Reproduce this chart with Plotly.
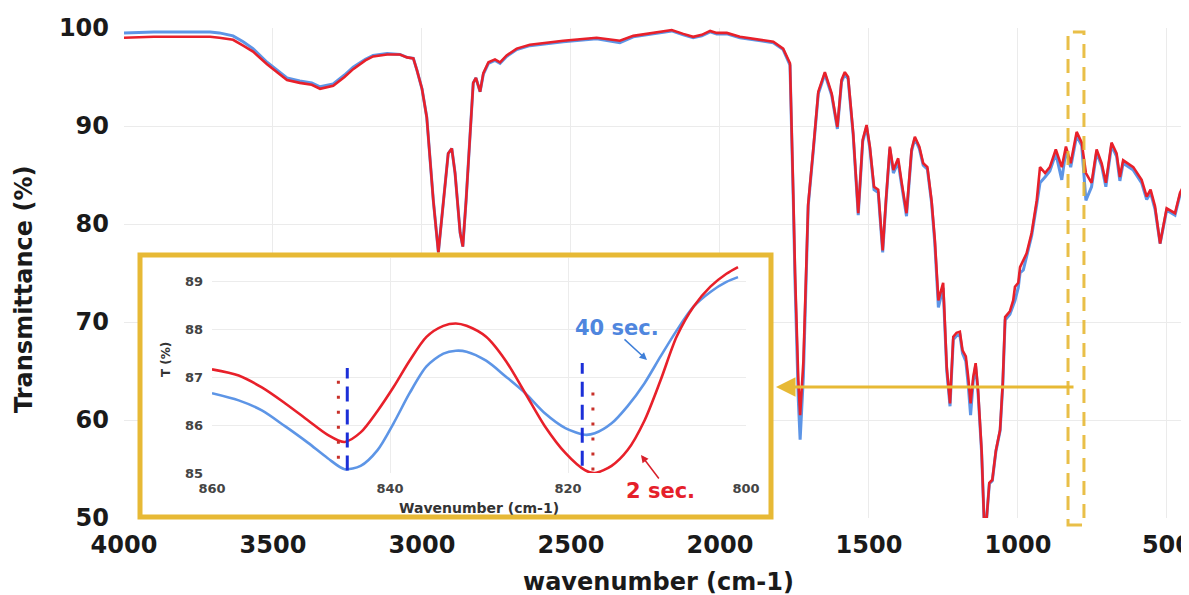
import plotly.graph_objects as go

# ---------------- main spectrum data ----------------
wn = [4000, 3900, 3800, 3711, 3680, 3634, 3600, 3567, 3520, 3480, 3453, 3410, 3370, 3342, 3298,
      3260, 3231, 3190, 3164, 3117, 3074, 3050, 3029, 3017, 3000, 2984, 2962, 2945, 2928, 2912,
      2900, 2889, 2872, 2863, 2852, 2839, 2828, 2819, 2805, 2794, 2777, 2755, 2738, 2716, 2682,
      2638, 2526, 2414, 2336, 2291, 2212, 2162, 2123, 2090, 2061, 2033, 2011, 1977, 1933, 1866,
      1821, 1788, 1765, 1754, 1748, 1737, 1731, 1720, 1709, 1704, 1687, 1670, 1648, 1625, 1606,
      1592, 1581, 1570, 1553, 1536, 1521, 1508, 1497, 1483, 1469, 1454, 1443, 1430, 1418, 1402,
      1390, 1374, 1357, 1346, 1331, 1318, 1304, 1290, 1279, 1267, 1251, 1239, 1228, 1217, 1206,
      1195, 1186, 1175, 1167, 1159, 1150, 1142, 1134, 1122, 1114, 1105, 1096, 1086, 1074, 1060,
      1051, 1043, 1027, 1016, 1010, 999, 993, 982, 971, 954, 937, 926, 909, 893, 873,
      853, 839, 823, 803, 786, 772, 753, 736, 719, 705, 686, 669, 658, 647, 613,
      585, 568, 555, 540, 523, 501, 473, 456, 440, 426]

t_2sec = [99.0, 99.1, 99.1, 99.1, 99.0, 98.8, 98.2, 97.6, 96.3, 95.3, 94.7, 94.4, 94.2, 93.8, 94.1,
          95.0, 95.8, 96.7, 97.1, 97.3, 97.3, 97.0, 96.9, 95.7, 93.8, 90.9, 82.4, 77.1, 82.4, 87.2,
          87.7, 85.2, 79.1, 77.7, 82.4, 89.3, 94.4, 94.9, 93.5, 95.4, 96.5, 96.8, 96.5, 97.2, 97.9,
          98.3, 98.7, 99.0, 98.7, 99.2, 99.6, 99.8, 99.4, 99.1, 99.3, 99.7, 99.5, 99.5, 99.1, 98.8,
          98.6, 97.9, 96.4, 83.0, 75.0, 64.0, 60.5, 66.0, 77.3, 82.0, 87.6, 93.5, 95.5, 93.3, 89.9,
          94.7, 95.5, 95.0, 89.3, 81.1, 88.6, 90.1, 87.9, 83.8, 83.5, 77.3, 82.4, 87.9, 85.5, 86.7,
          84.2, 81.1, 87.6, 88.9, 87.9, 86.2, 85.8, 82.4, 78.4, 72.2, 74.0, 65.4, 61.7, 68.5, 68.9,
          69.0, 67.1, 66.5, 64.4, 61.7, 64.4, 65.8, 63.1, 56.9, 50.0, 50.0, 53.6, 53.9, 56.9, 59.0,
          63.8, 70.5, 71.1, 72.2, 73.6, 74.0, 75.6, 76.3, 77.0, 79.1, 82.4, 85.8, 85.2, 85.8, 87.6,
          85.8, 87.9, 86.2, 89.4, 88.3, 85.2, 84.2, 87.6, 86.2, 84.2, 88.3, 87.2, 84.8, 86.5, 85.8,
          84.5, 82.8, 83.5, 81.8, 78.0, 81.6, 81.1, 83.2, 84.2, 85.0]

t_40sec = [99.5, 99.6, 99.6, 99.6, 99.5, 99.2, 98.6, 97.9, 96.5, 95.5, 94.9, 94.6, 94.4, 94.0, 94.3,
           95.2, 96.0, 96.8, 97.2, 97.4, 97.3, 97.0, 96.9, 95.7, 93.8, 90.9, 82.4, 77.1, 82.4, 87.2,
           87.7, 85.2, 79.1, 77.7, 82.4, 89.3, 94.4, 94.9, 93.5, 95.3, 96.4, 96.7, 96.4, 97.1, 97.8,
           98.2, 98.6, 98.9, 98.5, 99.1, 99.5, 99.7, 99.3, 99.0, 99.2, 99.6, 99.4, 99.4, 99.0, 98.7,
           98.5, 97.8, 96.2, 82.5, 74.0, 62.0, 58.0, 64.5, 77.0, 81.8, 87.4, 93.3, 95.3, 93.1, 89.7,
           94.5, 95.3, 94.8, 89.1, 80.9, 88.4, 89.9, 87.7, 83.5, 83.2, 77.1, 82.2, 87.7, 85.2, 86.3,
           83.9, 80.8, 87.4, 88.7, 87.7, 86.0, 85.6, 82.2, 78.0, 71.5, 73.5, 65.0, 61.4, 68.2, 68.6,
           68.7, 66.8, 66.0, 63.6, 60.5, 64.0, 65.5, 62.8, 56.7, 50.0, 50.0, 53.5, 53.8, 56.8, 58.9,
           63.5, 70.2, 70.8, 71.8, 72.2, 73.5, 75.0, 75.3, 76.6, 78.8, 82.0, 84.2, 84.8, 85.4, 87.2,
           84.5, 87.5, 85.8, 89.0, 88.0, 82.4, 83.8, 87.3, 85.9, 83.8, 88.0, 86.9, 84.4, 86.2, 85.5,
           84.2, 82.5, 83.2, 81.5, 78.0, 81.4, 80.9, 83.0, 84.0, 84.8]

# ---------------- inset data (860-800 cm-1) ----------------
wn_in = [860, 857, 854.4, 851.8, 849.2, 847, 845.1, 843.3, 841.4, 839.6, 837.8, 835.9, 834, 832.6,
         831.4, 829.2, 827, 824.8, 822.6, 820.3, 818.1, 817, 815.1, 813.3, 811.4, 809.6, 807.8,
         805.9, 804, 802.2, 800.9]
t_in_2sec = [87.17, 87.04, 86.79, 86.46, 86.10, 85.80, 85.65, 85.85, 86.30, 86.80, 87.35, 87.85,
             88.08, 88.13, 88.08, 87.85, 87.35, 86.67, 85.98, 85.42, 85.06, 85.00, 85.15, 85.48,
             86.10, 86.94, 87.85, 88.48, 88.90, 89.17, 89.31]
t_in_40sec = [86.67, 86.52, 86.31, 85.98, 85.63, 85.31, 85.08, 85.15, 85.48, 86.04, 86.67, 87.23,
              87.50, 87.56, 87.54, 87.35, 87.02, 86.67, 86.25, 85.94, 85.80, 85.83, 86.04, 86.40,
              86.88, 87.44, 87.98, 88.48, 88.79, 89.00, 89.10]

# minima markers: [x, y_bottom, y_top]
min_40sec = [[844.8, 85.05, 87.2], [818.4, 85.15, 87.3]]
min_2sec = [[845.8, 85.3, 87.0], [817.2, 85.05, 86.7]]

main_xticks = [4000, 3500, 3000, 2500, 2000, 1500, 1000, 500]
main_yticks = [50, 60, 70, 80, 90, 100]
in_xticks = [860, 840, 820, 800]
in_yticks = [85, 86, 87, 88, 89]

RED = "#e8202a"
BLUE = "#5d95e6"
GOLD = "#e7b935"
FONT = "DejaVu Sans"

fig = go.Figure()

# main plot
fig.add_trace(go.Scatter(x=wn, y=t_40sec, mode="lines", line=dict(color=BLUE, width=3),
                         name="40 sec.", showlegend=False))
fig.add_trace(go.Scatter(x=wn, y=t_2sec, mode="lines", line=dict(color=RED, width=2.6),
                         name="2 sec.", showlegend=False))

# white cover subplot (inset box background)
fig.add_trace(go.Scatter(x=[0], y=[0], xaxis="x2", yaxis="y2", mode="markers",
                         marker=dict(opacity=0), hoverinfo="skip", showlegend=False))

# inset
fig.add_trace(go.Scatter(x=wn_in, y=t_in_40sec, xaxis="x3", yaxis="y3", mode="lines",
                         line=dict(color=BLUE, width=2.6, shape="spline", smoothing=0.8),
                         showlegend=False))
fig.add_trace(go.Scatter(x=wn_in, y=t_in_2sec, xaxis="x3", yaxis="y3", mode="lines",
                         line=dict(color=RED, width=2.6, shape="spline", smoothing=0.8),
                         showlegend=False))
for xm, y0, y1 in min_40sec:
    fig.add_trace(go.Scatter(x=[xm, xm], y=[y0, y1], xaxis="x3", yaxis="y3", mode="lines",
                             line=dict(color="#1b2fd8", width=3, dash="15px,8px"),
                             showlegend=False))
for xm, y0, y1 in min_2sec:
    fig.add_trace(go.Scatter(x=[xm, xm], y=[y0, y1], xaxis="x3", yaxis="y3", mode="lines",
                             line=dict(color="#c8302a", width=3, dash="3px,12px"),
                             showlegend=False))

# page body has an 8px margin: work in reference-pixel coordinates and shift
OFF = 8
W, H = 1189 - OFF, 595 - OFF
L, T = 124 - OFF, 28 - OFF
R = 0
B = H - (518 - OFF)
PW, PH = W - L - R, H - T - B


def px(x):
    return (x - OFF - L) / PW


def py(y):
    return (518 - y) / PH


bold = dict(family=FONT, size=24, color="#1a1a1a", weight="bold")
small = dict(family=FONT, size=13, color="#444444", weight="bold")

fig.update_layout(
    template="none",
    width=W, height=H,
    margin=dict(l=L, r=R, t=T, b=B, pad=0),
    paper_bgcolor="white", plot_bgcolor="white",
    showlegend=False,
    xaxis=dict(range=[4000, 426], tickvals=main_xticks, showgrid=True, gridcolor="#ebebeb",
               gridwidth=1, zeroline=False, showline=False, ticks="", tickfont=bold,
               ticklabelstandoff=10, ticklabeloverflow="allow", automargin=False),
    yaxis=dict(range=[50, 100], tickvals=main_yticks, showgrid=True, gridcolor="#ebebeb",
               gridwidth=1, zeroline=False, showline=False, ticks="", tickfont=bold,
               ticklabelstandoff=14, automargin=False),
    xaxis2=dict(domain=[px(140), px(771)], anchor="y2", range=[0, 1], visible=False,
                showgrid=False, zeroline=False),
    yaxis2=dict(domain=[py(517), py(255)], anchor="x2", range=[0, 1], visible=False,
                showgrid=False, zeroline=False),
    xaxis3=dict(domain=[px(212), px(746)], anchor="y3", range=[860, 800], tickvals=in_xticks,
                showgrid=True, gridcolor="#ececec", zeroline=False, showline=False, ticks="",
                tickfont=small, ticklabelstandoff=6, automargin=False),
    yaxis3=dict(domain=[py(473), py(258)], anchor="x3", range=[85, 89.5], tickvals=in_yticks,
                showgrid=True, gridcolor="#ececec", zeroline=False, showline=False, ticks="",
                tickfont=small, ticklabelstandoff=8, automargin=False),
)

# inset frame
fig.add_shape(type="rect", xref="paper", yref="paper", x0=px(140), x1=px(771),
              y0=py(517), y1=py(255), line=dict(color=GOLD, width=5), layer="above")
# dashed selection bracket around 830-780 cm-1
fig.add_shape(type="rect", xref="x", yref="paper", x0=832, x1=778.5, y0=py(525), y1=py(32),
              line=dict(color=GOLD, width=3, dash="14px,9px"), layer="above", opacity=0.9)

annotations = [
    # yellow arrow pointing to inset
    dict(xref="paper", yref="paper", x=px(776), y=py(387), ax=299, ay=0, text="",
         showarrow=True, arrowhead=2, arrowsize=1.3, arrowwidth=3, arrowcolor=GOLD),
    # main axis titles
    dict(xref="paper", yref="paper", x=px(658), y=py(582), text="wavenumber (cm-1)",
         showarrow=False, font=bold, xanchor="center", yanchor="middle"),
    dict(xref="paper", yref="paper", x=px(24), y=py(290), text="Transmittance (%)",
         textangle=-90, showarrow=False, font=bold, xanchor="center", yanchor="middle"),
    # inset axis titles
    dict(xref="paper", yref="paper", x=px(479), y=py(508), text="Wavenumber (cm-1)",
         showarrow=False, font=dict(family=FONT, size=14, color="#333333", weight="bold"),
         xanchor="center", yanchor="middle"),
    dict(xref="paper", yref="paper", x=px(166), y=py(360), text="T (%)", textangle=-90,
         showarrow=False, font=dict(family=FONT, size=12, color="#333333", weight="bold"),
         xanchor="center", yanchor="middle"),
    # series labels
    dict(xref="paper", yref="paper", x=px(617), y=py(328), text="40 sec.", showarrow=False,
         font=dict(family=FONT, size=21, color="#4f86de", weight="bold"),
         xanchor="center", yanchor="middle"),
    dict(xref="paper", yref="paper", x=px(660), y=py(491), text="2 sec.", showarrow=False,
         font=dict(family=FONT, size=21, color="#e5202a", weight="bold"),
         xanchor="center", yanchor="middle"),
    dict(xref="paper", yref="paper", x=px(647), y=py(360), ax=-24, ay=-22, text="",
         showarrow=True, arrowhead=2, arrowsize=1, arrowwidth=1.5, arrowcolor="#3f7fd8"),
    dict(xref="paper", yref="paper", x=px(641), y=py(455), ax=19, ay=25, text="",
         showarrow=True, arrowhead=2, arrowsize=1, arrowwidth=1.5, arrowcolor="#d8202a"),
]
fig.update_layout(annotations=annotations)

fig.write_html("out.html")
